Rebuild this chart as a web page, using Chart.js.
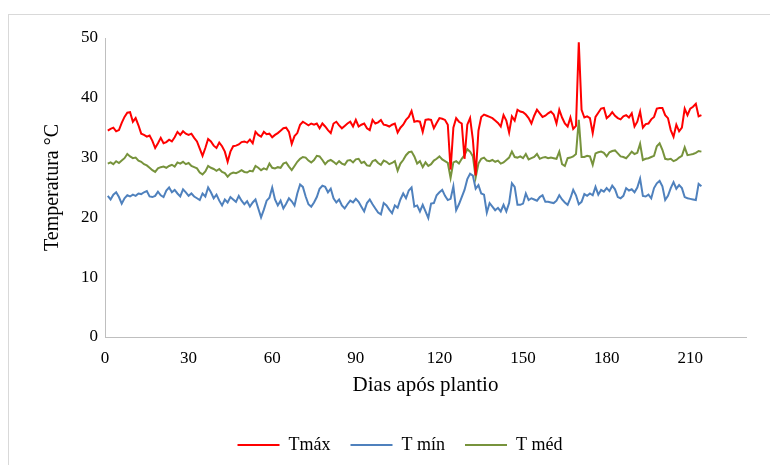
<!DOCTYPE html>
<html lang="pt">
<head>
<meta charset="utf-8">
<title>Temperatura diária</title>
<script src="https://cdn.jsdelivr.net/npm/chart.js@4"></script>
<style>
  body { margin: 0; background: #fff; }
  .wrap { position: relative; width: 770px; height: 465px; overflow: hidden; }
  .moldura { position: absolute; left: 8px; top: 14px; width: 800px; height: 500px; border: 1px solid #d9d9d9; }
  canvas { position: absolute; left: 0; top: 0; }
</style>
</head>
<body>
<div class="wrap">
  <div class="moldura"></div>
  <canvas id="grafico" width="770" height="465"></canvas>
</div>
<script>
// dias após plantio: a série começa no dia 1
const primeiroDia = 1;
const ticksX = [0, 30, 60, 90, 120, 150, 180, 210];

const tmax = [
  34.5, 34.8, 35.0, 34.4, 34.6, 35.8, 36.8, 37.5, 37.6, 36.0,
  36.6, 35.4, 34.0, 33.8, 33.5, 33.7, 32.8, 31.6, 32.4, 33.3,
  32.4, 32.6, 33.0, 32.7, 33.4, 34.3, 33.8, 34.4, 34.0, 33.8,
  34.0, 33.3, 32.7, 31.5, 30.3, 31.6, 33.1, 32.7, 32.0, 31.6,
  32.5, 31.9, 31.0, 29.3, 31.0, 31.9, 32.0, 32.2, 32.6, 32.7,
  32.5, 33.0, 32.4, 34.3, 33.8, 33.5, 34.3, 33.9, 34.0, 33.4,
  33.8, 34.1, 34.5, 34.9, 35.0, 34.3, 32.3, 33.6, 34.1, 35.5,
  36.0, 35.7, 35.4, 35.7, 35.5, 35.7, 34.9, 35.7, 35.2, 34.6,
  34.1, 35.7, 36.0, 35.4, 34.9, 35.3, 35.7, 36.0, 35.2, 36.3,
  35.2, 35.5, 35.7, 34.9, 34.6, 36.3, 35.7, 35.9, 36.3, 35.5,
  35.4, 35.2, 35.5, 35.7, 34.2, 35.0, 35.5, 36.3, 36.8, 37.8,
  36.0, 36.1, 36.0, 34.3, 36.3, 36.4, 36.3, 34.9, 35.8, 36.6,
  36.5, 36.3, 35.5, 28.0, 35.0, 36.6, 36.0, 35.7, 29.8, 35.5,
  36.6, 33.0, 27.0, 34.5, 36.8, 37.2, 37.0, 36.8, 36.6, 36.2,
  35.8, 35.2, 37.1, 36.2, 34.2, 36.9, 36.2, 38.0, 37.7, 37.6,
  37.2, 36.6, 35.7, 37.0, 38.0, 37.4, 36.8, 37.0, 37.4, 37.7,
  37.2, 35.7, 38.0, 36.7, 35.7, 35.2, 36.7, 34.8, 35.3, 49.3,
  38.0, 36.7, 36.9, 36.6, 34.1, 36.8, 37.5, 38.2, 38.3, 36.6,
  37.0, 37.6, 37.0, 36.6, 36.4, 36.9, 37.1, 36.7, 37.4, 35.2,
  36.0, 37.7, 35.0, 35.6, 35.7, 36.4, 36.8, 38.2, 38.3, 38.3,
  37.1, 36.6, 34.6, 33.5, 35.5, 34.4, 35.0, 38.2, 37.1, 38.2,
  38.5, 39.0, 36.9, 37.1
];

const tmin = [
  23.6, 23.0, 23.8, 24.2, 23.4, 22.3, 23.2, 23.7, 23.5, 23.8,
  23.6, 24.0, 23.9, 24.2, 24.4, 23.5, 23.4, 23.6, 24.3, 23.7,
  23.4, 24.5, 25.0, 24.2, 24.6, 24.0, 23.5, 24.7, 24.2, 23.6,
  24.0, 23.5, 23.2, 22.9, 24.0, 23.5, 25.0, 24.2, 23.2, 23.8,
  22.8, 22.0, 23.0, 22.5, 23.4, 23.0, 22.6, 23.6, 22.8, 22.2,
  22.7, 21.8, 22.5, 23.0, 21.5, 20.0, 21.3, 22.8, 23.3, 25.0,
  23.0, 22.0, 22.8, 21.5, 22.3, 23.2, 22.7, 22.0, 24.0, 25.5,
  25.1, 23.5, 22.2, 21.8, 22.5, 23.4, 24.8, 25.3, 25.1, 24.2,
  24.8, 23.2, 22.5, 23.0, 22.0, 21.5, 22.2, 22.8, 22.5, 23.1,
  22.6, 21.8, 21.0, 22.4, 23.0, 22.2, 21.5, 20.8, 20.5, 22.4,
  22.0, 21.3, 20.7, 22.0, 21.6, 23.0, 24.0, 23.2, 24.5, 25.0,
  21.8, 22.0, 21.0, 22.1, 21.0, 19.9, 22.3, 22.4, 23.7, 24.2,
  24.6, 23.6, 22.9, 23.1, 25.2, 21.2, 22.2, 23.4, 24.6, 26.4,
  27.3, 27.0, 24.8, 25.4, 24.0, 23.8, 20.8, 22.4, 21.8, 21.2,
  21.6, 21.0, 22.1, 21.0, 22.4, 25.7, 25.1, 22.1, 22.1, 22.3,
  24.0, 22.9, 23.2, 23.0, 22.8, 23.4, 23.7, 22.6, 22.6, 22.5,
  22.4, 22.8, 23.7, 23.0, 22.5, 22.1, 23.2, 24.6, 23.7, 22.2,
  22.6, 23.9, 23.6, 24.0, 23.7, 25.1, 23.8, 24.6, 24.3, 24.9,
  24.4, 25.3, 24.7, 23.4, 23.2, 23.6, 24.9, 24.5, 24.7, 24.2,
  25.0, 26.5, 23.6, 23.5, 23.8, 23.2, 24.9, 25.7, 26.1, 25.2,
  22.9, 23.6, 24.9, 25.9, 24.8, 25.4, 24.9, 23.4, 23.2, 23.1,
  23.0, 22.9, 25.6, 25.2
];

const tmed = [
  29.0, 29.2, 28.9, 29.4, 29.1, 29.5, 29.9, 30.6, 30.2, 29.9,
  30.0, 29.5, 29.3, 28.9, 28.7, 28.3, 27.9, 27.6, 28.2, 28.4,
  28.5, 28.3, 28.6, 28.8, 28.5, 29.2, 29.0, 29.3, 28.9, 29.1,
  28.6, 28.4, 28.2, 27.5, 27.2, 27.7, 28.6, 28.3, 28.1, 27.8,
  28.1, 27.6, 27.4, 26.8, 27.3, 27.5, 27.4, 27.6, 27.9, 27.6,
  27.5, 27.8, 27.7, 28.6, 28.3, 27.9, 28.2, 28.0, 29.0, 28.3,
  28.2, 28.4, 28.3, 29.0, 29.2, 28.5, 27.9, 28.6, 29.3, 29.8,
  30.1, 30.0, 29.5, 29.2, 29.6, 30.3, 30.2, 29.6, 28.9, 29.4,
  29.6, 29.3, 28.9, 29.4, 29.0, 28.8, 29.5, 29.6, 29.2, 29.7,
  29.8, 29.1, 29.3, 28.7, 28.6, 29.4, 29.6, 29.1, 28.8, 29.5,
  29.3, 28.9, 29.1, 29.4, 27.8, 29.0, 29.6, 30.4, 30.9, 31.0,
  30.2, 29.0, 29.4, 28.4, 29.2, 28.6, 28.9, 29.5, 29.8, 30.2,
  29.7, 29.4, 29.1, 26.6, 29.2, 29.4, 29.0, 29.8, 30.4, 31.4,
  31.0, 30.2, 26.7, 29.0, 29.8, 30.0, 29.5, 29.4, 29.6, 29.3,
  29.5, 29.0, 29.2, 29.6, 30.0, 31.0, 30.1, 30.0, 30.2, 29.9,
  30.6, 29.7, 29.9, 30.1, 30.6, 29.8, 30.0, 30.1, 29.9, 30.0,
  29.9, 29.8, 31.0, 28.9, 28.6, 29.9, 30.0, 30.2, 30.6, 36.3,
  30.1, 30.1, 30.3, 30.2, 28.8, 30.7, 30.9, 31.0, 30.8, 30.2,
  30.9, 31.1, 31.2, 30.7, 30.2, 30.1, 29.9, 30.4, 31.0, 30.6,
  30.8, 32.3, 29.6, 29.8, 29.9, 30.1, 30.3, 31.9, 32.4, 31.3,
  29.8, 29.7, 29.8, 29.4, 29.6, 30.0, 30.3, 31.7, 30.4, 30.5,
  30.6, 30.8, 31.1, 31.0
];

const fonte = "'Liberation Serif', 'Times New Roman', serif";

// converte a lista de valores em pontos {x: dia, y: temperatura}
const pontos = (valores) => valores.map((v, i) => ({ x: primeiroDia + i, y: v }));

const serie = (rotulo, valores, cor) => ({
  label: rotulo,
  data: pontos(valores),
  borderColor: cor,
  backgroundColor: cor,
  borderWidth: 2,
  pointRadius: 0,
  tension: 0,
  fill: false,
});

// a legenda fica um pouco à direita do centro do canvas
const deslocaLegenda = {
  id: "deslocaLegenda",
  afterLayout(chart) {
    chart.legend.left += 22;
    chart.legend.right += 22;
  },
};

const ctx = document.getElementById("grafico").getContext("2d");
const grafico = new Chart(ctx, {
  type: "line",
  data: {
    datasets: [
      serie("Tmáx", tmax, "#ff0000"),
      serie("T mín", tmin, "#4f81bd"),
      serie("T méd", tmed, "#77933c"),
    ],
  },
  plugins: [deslocaLegenda],
  options: {
    responsive: false,
    animation: false,
    layout: {
      padding: { left: 10, right: 24, top: 38, bottom: 1 },
    },
    plugins: {
      legend: {
        position: "bottom",
        labels: {
          usePointStyle: true,
          pointStyle: "line",
          pointStyleWidth: 42,
          color: "#000",
          padding: 20,
          font: { family: fonte, size: 18 },
        },
      },
      tooltip: { enabled: false },
    },
    scales: {
      x: {
        type: "linear",
        min: 0,
        max: 230,
        grid: { display: false, drawTicks: false },
        border: { display: true, color: "#bfbfbf", width: 1 },
        afterBuildTicks: (scale) => {
          scale.ticks = ticksX.map((v) => ({ value: v }));
        },
        afterFit: (scale) => {
          scale.height = 79;
        },
        ticks: {
          color: "#000",
          padding: 11,
          maxRotation: 0,
          font: { family: fonte, size: 17 },
        },
        title: {
          display: true,
          text: "Dias após plantio",
          color: "#000",
          padding: { top: 0, bottom: 18 },
          font: { family: fonte, size: 21 },
        },
      },
      y: {
        min: 0,
        max: 50,
        grid: { display: false, drawTicks: false },
        border: { display: true, color: "#bfbfbf", width: 1 },
        afterFit: (scale) => {
          scale.width = 95;
        },
        ticks: {
          stepSize: 10,
          color: "#000",
          padding: 7,
          font: { family: fonte, size: 17 },
        },
        title: {
          display: true,
          text: "Temperatura °C",
          color: "#000",
          padding: { top: 31, bottom: 0 },
          font: { family: fonte, size: 20 },
        },
      },
    },
  },
});
</script>
</body>
</html>
